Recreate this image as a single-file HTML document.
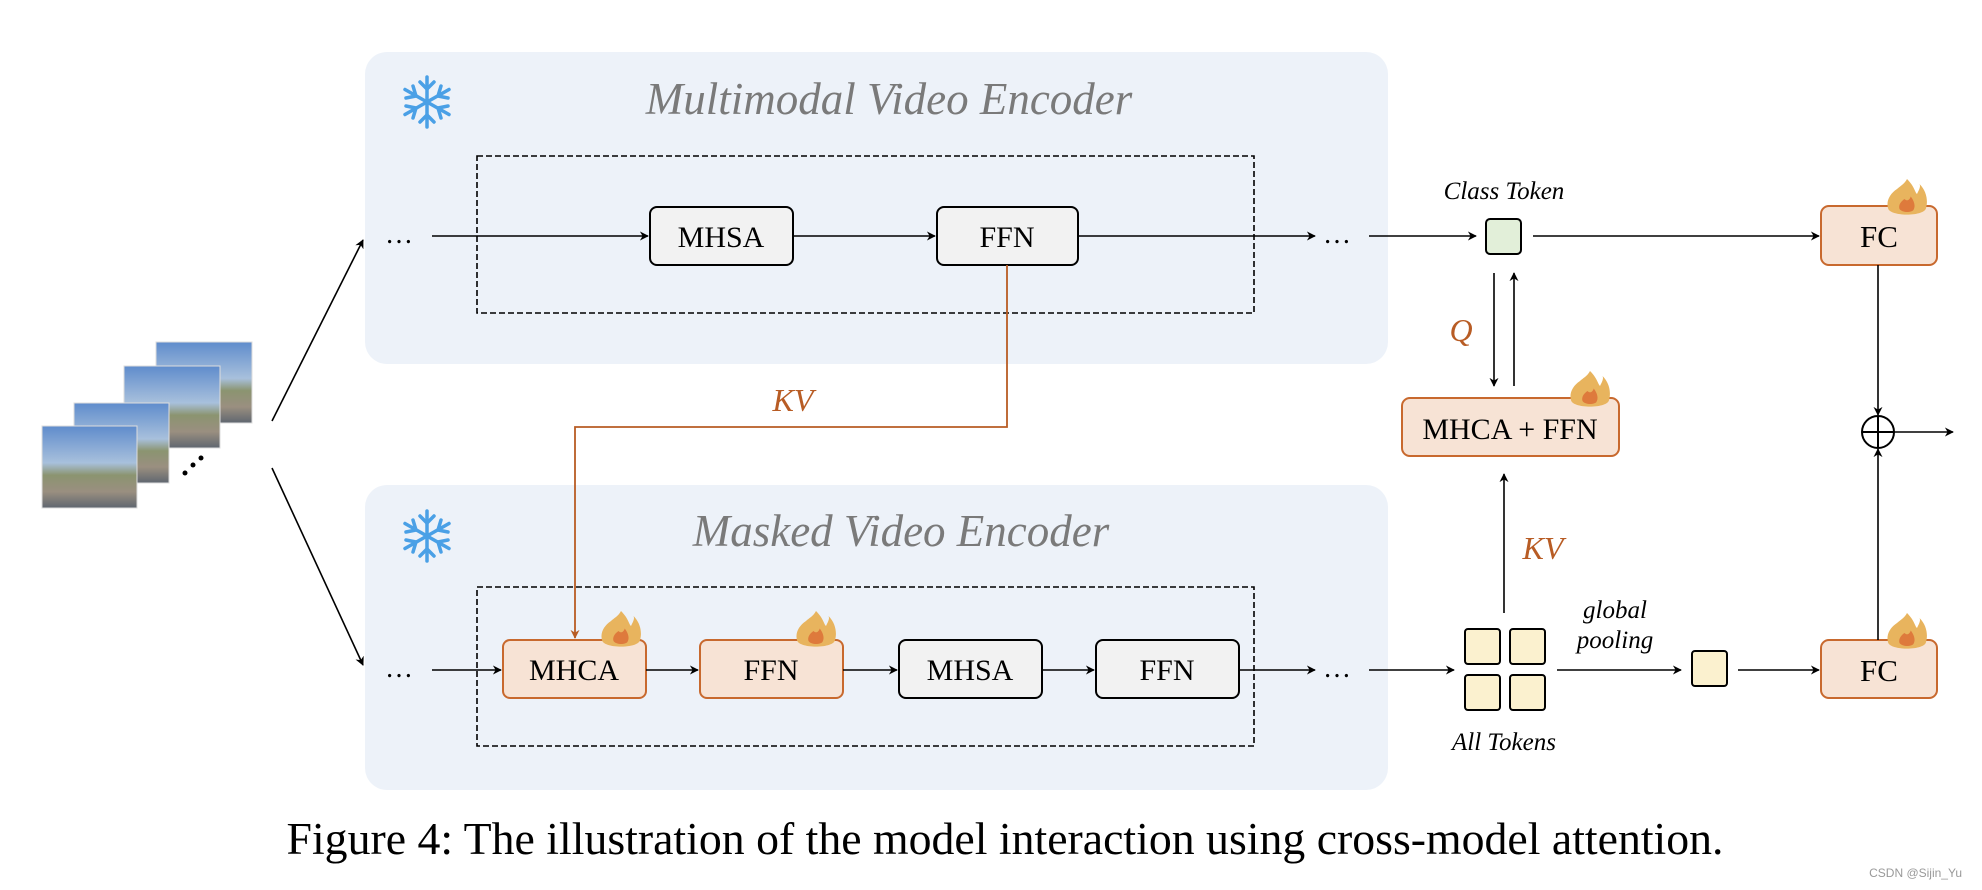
<!DOCTYPE html>
<html><head><meta charset="utf-8"><style>
html,body{margin:0;padding:0;background:#fff;}
svg{display:block;}
text{font-family:"Liberation Serif",serif;}
</style></head><body>
<svg width="1982" height="890" viewBox="0 0 1982 890" xmlns="http://www.w3.org/2000/svg">
<defs>
<marker id="a" viewBox="0 0 10 10" refX="9" refY="5" markerWidth="9" markerHeight="9" markerUnits="userSpaceOnUse" orient="auto"><path d="M0,0 L10,5 L0,10 L3,5 z" fill="#000"/></marker>
<marker id="ao" viewBox="0 0 10 10" refX="9" refY="5" markerWidth="9" markerHeight="9" markerUnits="userSpaceOnUse" orient="auto"><path d="M0,0 L10,5 L0,10 L3,5 z" fill="#b85c24"/></marker>
<linearGradient id="img" x1="0" y1="0" x2="0" y2="1">
<stop offset="0" stop-color="#5f8ccc"/><stop offset="0.45" stop-color="#a8c0dc"/><stop offset="0.6" stop-color="#8b9470"/><stop offset="0.8" stop-color="#9a8f80"/><stop offset="1" stop-color="#5f6670"/></linearGradient>
<g id="snow" stroke="#4aa0e6" stroke-width="3.5" stroke-linecap="round" fill="none">
<line x1="0" y1="-25" x2="0" y2="25"/><line x1="-22" y1="-12.5" x2="22" y2="12.5"/><line x1="-22" y1="12.5" x2="22" y2="-12.5"/>
<path d="M-7,-20 L0,-13 L7,-20 M-7,20 L0,13 L7,20 M-21,-4 L-11,-6 L-14,-16 M21,4 L11,6 L14,16 M-21,4 L-11,6 L-14,16 M21,-4 L11,-6 L14,-16"/>
</g>
<g id="flame" transform="scale(1.25)"><path d="M0,-16 C6,-10 6,-6 8,-4 C10,-8 11,-10 10,-12 C16,-6 17,2 15,8 C12,14 -12,14 -15,8 C-17,2 -14,-4 -8,-8 C-6,-10 -2,-12 0,-16 z" fill="#e8b45e"/><path d="M-2,0 C0,2 2,1 3,-2 C6,2 7,6 5,9 C3,11 -4,11 -6,8 C-7,5 -5,2 -2,0 z" fill="#de7a3c"/></g>
</defs>

<rect x="365" y="52" width="1023" height="312" rx="22" fill="#edf2f9"/>
<rect x="365" y="485" width="1023" height="305" rx="22" fill="#edf2f9"/>
<use href="#snow" x="427" y="102"/>
<use href="#snow" x="427" y="536"/>
<text x="889" y="114" font-size="45" font-style="italic" fill="#7a7a7a" text-anchor="middle">Multimodal Video Encoder</text>
<text x="901" y="546" font-size="45" font-style="italic" fill="#7a7a7a" text-anchor="middle">Masked Video Encoder</text>

<rect x="477" y="156" width="777" height="157" fill="none" stroke="#000" stroke-width="1.6" stroke-dasharray="6,3"/>
<rect x="477" y="587" width="777" height="159" fill="none" stroke="#000" stroke-width="1.6" stroke-dasharray="6,3"/>

<text x="399" y="243" font-size="28" text-anchor="middle">…</text>
<line x1="432" y1="236" x2="648" y2="236" stroke="#000" stroke-width="1.6" marker-end="url(#a)"/>
<rect x="650" y="207" width="143" height="58" rx="7" fill="#f2f2f2" stroke="#000" stroke-width="2"/>
<text x="721" y="247" font-size="30" text-anchor="middle">MHSA</text>
<line x1="793" y1="236" x2="935" y2="236" stroke="#000" stroke-width="1.6" marker-end="url(#a)"/>
<rect x="937" y="207" width="141" height="58" rx="7" fill="#f2f2f2" stroke="#000" stroke-width="2"/>
<text x="1007" y="247" font-size="30" text-anchor="middle">FFN</text>
<line x1="1078" y1="236" x2="1315" y2="236" stroke="#000" stroke-width="1.6" marker-end="url(#a)"/>
<text x="1337" y="243" font-size="28" text-anchor="middle">…</text>
<line x1="1369" y1="236" x2="1476" y2="236" stroke="#000" stroke-width="1.6" marker-end="url(#a)"/>

<polyline points="1007,265 1007,427 575,427 575,638" fill="none" stroke="#b85c24" stroke-width="1.8" marker-end="url(#ao)"/>
<text x="793" y="411" font-size="32" font-style="italic" fill="#b85c24" text-anchor="middle">KV</text>

<text x="399" y="677" font-size="28" text-anchor="middle">…</text>
<line x1="432" y1="670" x2="501" y2="670" stroke="#000" stroke-width="1.6" marker-end="url(#a)"/>
<rect x="503" y="640" width="143" height="58" rx="7" fill="#f7e3d5" stroke="#c8692e" stroke-width="2"/>
<text x="574" y="680" font-size="30" text-anchor="middle">MHCA</text>
<line x1="646" y1="670" x2="698" y2="670" stroke="#000" stroke-width="1.6" marker-end="url(#a)"/>
<rect x="700" y="640" width="143" height="58" rx="7" fill="#f7e3d5" stroke="#c8692e" stroke-width="2"/>
<text x="771" y="680" font-size="30" text-anchor="middle">FFN</text>
<line x1="843" y1="670" x2="897" y2="670" stroke="#000" stroke-width="1.6" marker-end="url(#a)"/>
<rect x="899" y="640" width="143" height="58" rx="7" fill="#f2f2f2" stroke="#000" stroke-width="2"/>
<text x="970" y="680" font-size="30" text-anchor="middle">MHSA</text>
<line x1="1042" y1="670" x2="1094" y2="670" stroke="#000" stroke-width="1.6" marker-end="url(#a)"/>
<rect x="1096" y="640" width="143" height="58" rx="7" fill="#f2f2f2" stroke="#000" stroke-width="2"/>
<text x="1167" y="680" font-size="30" text-anchor="middle">FFN</text>
<line x1="1239" y1="670" x2="1315" y2="670" stroke="#000" stroke-width="1.6" marker-end="url(#a)"/>
<text x="1337" y="677" font-size="28" text-anchor="middle">…</text>
<line x1="1369" y1="670" x2="1454" y2="670" stroke="#000" stroke-width="1.6" marker-end="url(#a)"/>
<use href="#flame" x="621" y="631"/>
<use href="#flame" x="816" y="631"/>

<text x="1504" y="199" font-size="25" font-style="italic" text-anchor="middle">Class Token</text>
<rect x="1486" y="219" width="35" height="35" rx="4" fill="#e2efd9" stroke="#000" stroke-width="2"/>
<line x1="1533" y1="236" x2="1819" y2="236" stroke="#000" stroke-width="1.6" marker-end="url(#a)"/>
<rect x="1821" y="206" width="116" height="59" rx="8" fill="#f7e3d5" stroke="#c8692e" stroke-width="2"/>
<text x="1879" y="247" font-size="31" text-anchor="middle">FC</text>
<use href="#flame" x="1907" y="199"/>

<line x1="1494" y1="273" x2="1494" y2="386" stroke="#000" stroke-width="1.6" marker-end="url(#a)"/>
<line x1="1514" y1="386" x2="1514" y2="273" stroke="#000" stroke-width="1.6" marker-end="url(#a)"/>
<text x="1461" y="341" font-size="32" font-style="italic" fill="#b85c24" text-anchor="middle">Q</text>

<rect x="1402" y="398" width="217" height="58" rx="8" fill="#f7e3d5" stroke="#c8692e" stroke-width="2"/>
<text x="1510" y="439" font-size="30" text-anchor="middle">MHCA + FFN</text>
<use href="#flame" x="1590" y="391"/>

<line x1="1504" y1="613" x2="1504" y2="474" stroke="#000" stroke-width="1.6" marker-end="url(#a)"/>
<text x="1543" y="559" font-size="32" font-style="italic" fill="#b85c24" text-anchor="middle">KV</text>

<rect x="1465" y="629" width="35" height="35" rx="3" fill="#fbf1cf" stroke="#000" stroke-width="2"/>
<rect x="1510" y="629" width="35" height="35" rx="3" fill="#fbf1cf" stroke="#000" stroke-width="2"/>
<rect x="1465" y="675" width="35" height="35" rx="3" fill="#fbf1cf" stroke="#000" stroke-width="2"/>
<rect x="1510" y="675" width="35" height="35" rx="3" fill="#fbf1cf" stroke="#000" stroke-width="2"/>
<text x="1504" y="750" font-size="25" font-style="italic" text-anchor="middle">All Tokens</text>
<text x="1615" y="618" font-size="25" font-style="italic" text-anchor="middle">global</text>
<text x="1615" y="648" font-size="25" font-style="italic" text-anchor="middle">pooling</text>
<line x1="1557" y1="670" x2="1681" y2="670" stroke="#000" stroke-width="1.6" marker-end="url(#a)"/>
<rect x="1692" y="651" width="35" height="35" rx="3" fill="#fbf1cf" stroke="#000" stroke-width="2"/>
<line x1="1738" y1="670" x2="1819" y2="670" stroke="#000" stroke-width="1.6" marker-end="url(#a)"/>
<rect x="1821" y="640" width="116" height="58" rx="8" fill="#f7e3d5" stroke="#c8692e" stroke-width="2"/>
<text x="1879" y="681" font-size="31" text-anchor="middle">FC</text>
<use href="#flame" x="1907" y="633"/>

<line x1="1878" y1="265" x2="1878" y2="415" stroke="#000" stroke-width="1.6" marker-end="url(#a)"/>
<line x1="1878" y1="640" x2="1878" y2="449" stroke="#000" stroke-width="1.6" marker-end="url(#a)"/>
<circle cx="1878" cy="432" r="16" fill="#fff" stroke="#000" stroke-width="2"/>
<line x1="1862" y1="432" x2="1894" y2="432" stroke="#000" stroke-width="2"/>
<line x1="1878" y1="416" x2="1878" y2="448" stroke="#000" stroke-width="2"/>
<line x1="1894" y1="432" x2="1953" y2="432" stroke="#000" stroke-width="1.6" marker-end="url(#a)"/>

<rect x="156" y="342" width="96" height="81" fill="url(#img)" stroke="#ddd"/>
<rect x="124" y="366" width="96" height="82" fill="url(#img)" stroke="#ddd"/>
<rect x="74" y="403" width="95" height="80" fill="url(#img)" stroke="#ddd"/>
<rect x="42" y="426" width="95" height="82" fill="url(#img)" stroke="#ddd"/>
<circle cx="185" cy="473" r="2.5"/><circle cx="193" cy="465" r="2.5"/><circle cx="201" cy="458" r="2.5"/>
<line x1="272" y1="421" x2="363" y2="240" stroke="#000" stroke-width="1.6" marker-end="url(#a)"/>
<line x1="272" y1="468" x2="363" y2="665" stroke="#000" stroke-width="1.6" marker-end="url(#a)"/>

<text x="1005" y="854" font-size="45" text-anchor="middle" textLength="1437" lengthAdjust="spacingAndGlyphs">Figure 4: The illustration of the model interaction using cross-model attention.</text>
<text x="1962" y="877" font-size="12" fill="#999" text-anchor="end" style="font-family:'Liberation Sans',sans-serif">CSDN @Sijin_Yu</text>
</svg>
</body></html>
